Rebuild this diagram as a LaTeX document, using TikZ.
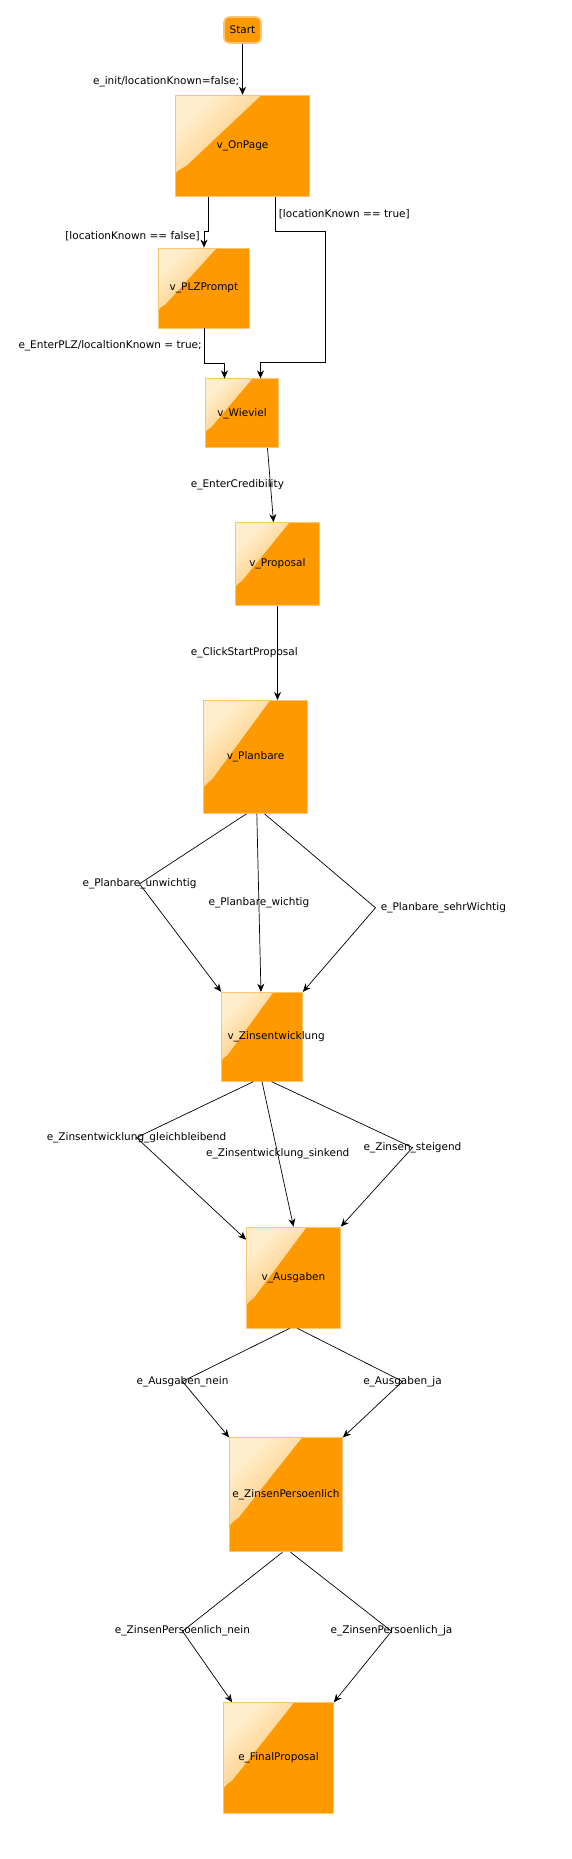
\documentclass[tikz,border=0pt]{standalone}
\usepackage{fontspec}
\setmainfont{DejaVu Sans}
\usetikzlibrary{positioning,arrows.meta,calc}

\definecolor{boxorange}{RGB}{255,153,0}
\definecolor{boxedge}{RGB}{255,196,112}
\definecolor{boxgloss}{RGB}{255,238,206}
\definecolor{glossend}{RGB}{255,170,45}

\tikzset{
	gloss/.style={path picture={%
		\shade[top color=boxgloss, bottom color=glossend, shading angle=45]
			let \p1=(path picture bounding box.south west),
			\p2=(path picture bounding box.north east) in
			(\x1,\y2) -- ({\x1+0.64*(\x2-\x1)},\y2)
			-- ({\x1+0.08*(\x2-\x1)},{\y2-0.7*(\y2-\y1)})
			.. controls (\x1,{\y2-0.76*(\y2-\y1)}) .. (\x1,{\y2-0.8*(\y2-\y1)}) -- cycle;
	}}
}

\begin{document}
\begin{tikzpicture}[%
		->,
		>={Stealth[length=8pt,width=7pt,inset=2.5pt]},
		line width=0.7pt,
		x=1pt, y=-1pt,
		font=\fontsize{10.5}{12}\selectfont,
		view/.style={%
			draw=boxedge,
			line width=0.8pt,
			fill=boxorange,
			gloss,
			inner sep=0pt
		},
		startnode/.style={%
			draw=boxedge,
			line width=1.6pt,
			fill=boxorange,
			rounded corners=5pt,
			minimum width=37pt,
			minimum height=26pt,
			inner sep=0pt
		},
		lbl/.style={inner sep=1pt, text=black}
		]
		\useasboundingbox (0,0) rectangle (571,1859);

		\node[startnode] (0) at (242.5,30)                                                            {Start};
		\node[view, minimum width=134pt, minimum height=101pt] (1) [below=51pt of 0]                  {v\_OnPage};
		\node[view, minimum width=91pt, minimum height=80pt] (2) [below=51pt of 1, xshift=-38.5pt]    {v\_PLZPrompt};
		\node[view, minimum width=73pt, minimum height=69pt] (3) [below=50pt of 2, xshift=38pt]       {v\_Wieviel};
		\node[view, minimum width=84pt, minimum height=83pt] (4) [below=74pt of 3, xshift=35.5pt]     {v\_Proposal};
		\node[view, minimum width=104pt, minimum height=113pt] (5) [below=94pt of 4, xshift=-22pt]    {v\_Planbare};
		\node[view, minimum width=81pt, minimum height=89pt] (6) [below=178pt of 5, xshift=6.5pt]     {\makebox[69pt][l]{v\_Zinsentwicklung}};
		\node[view, minimum width=94pt, minimum height=101pt] (7) [below=145pt of 6, xshift=31.5pt]   {v\_Ausgaben};
		\node[view, minimum width=113pt, minimum height=114pt] (8) [below=109pt of 7, xshift=-7.5pt]  {e\_ZinsenPersoenlich};
		\node[view, minimum width=110pt, minimum height=111pt] (9) [below=150pt of 8, xshift=-7.5pt]  {e\_FinalProposal};

		% start and location check
		\draw (0) -- (1) node[lbl, pos=0.75, left=2pt] (l0) {e\_init/locationKnown=false;};
		\draw ([xshift=-34pt]1.south) -- ++(0,35) -| (2)
			node[lbl, pos=0.5, anchor=east, xshift=-3pt, yshift=-5pt] (l1) {[locationKnown == false]};
		\draw ([xshift=33pt]1.south) -- ++(0,35) node[lbl, midway, right=2pt] (l2) {[locationKnown == true]}
			-| ++(50,131) -| ([xshift=18.5pt]3.north);
		\draw (2.south) -- ++(0,35) node[lbl, midway, left=1pt] (l3) {e\_EnterPLZ/localtionKnown = true;}
			-| ([xshift=-17.5pt]3.north);

		% straight steps
		\draw ([xshift=25.5pt]3.south) -- ([xshift=-4pt]4.north)
			node[lbl, midway, anchor=west, xshift=-81pt] (l4) {e\_EnterCredibility};
		\draw (4.south) -- (4.south |- 5.north)
			node[lbl, midway, anchor=west, xshift=-88pt] (l5) {e\_ClickStartProposal};

		% Planbare
		\draw ([xshift=-9pt]5.south) -- ++(-107,70) node[lbl] (l6) {e\_Planbare\_unwichtig} -- (6.north west);
		\draw (5) -- (6) node[lbl, midway] (l7) {e\_Planbare\_wichtig};
		\draw ([xshift=9pt]5.south) -- ++(111,94) node[lbl, right=4pt] (l8) {e\_Planbare\_sehrWichtig} -- (6.north east);

		% Zinsentwicklung
		\draw ([xshift=-8.5pt]6.south) -- ++(-117,56) node[lbl] (l9) {e\_Zinsentwicklung\_gleichbleibend} -- ([yshift=-13pt]7.north west);
		\draw (6.south) -- (7.north) node[lbl, midway] (l10) {e\_Zinsentwicklung\_sinkend};
		\draw ([xshift=9.5pt]6.south) -- ++(141,66) node[lbl] (l11) {e\_Zinsen\_steigend} -- (7.north east);

		% Ausgaben
		\draw ([xshift=-4pt]7.south) -- ++(-107,53) node[lbl] (l12) {e\_Ausgaben\_nein} -- (8.north west);
		\draw ([xshift=4pt]7.south) -- ++(105,53) node[lbl] (l13) {e\_Ausgaben\_ja} -- (8.north east);

		% ZinsenPersoenlich
		\draw ([xshift=-3.5pt]8.south) -- ++(-100,79) node[lbl] (l14) {e\_ZinsenPersoenlich\_nein} -- ([xshift=9pt]9.north west);
		\draw ([xshift=4.5pt]8.south) -- ++(101,79) node[lbl] (l15) {e\_ZinsenPersoenlich\_ja} -- (9.north east);
\end{tikzpicture}
\end{document}
